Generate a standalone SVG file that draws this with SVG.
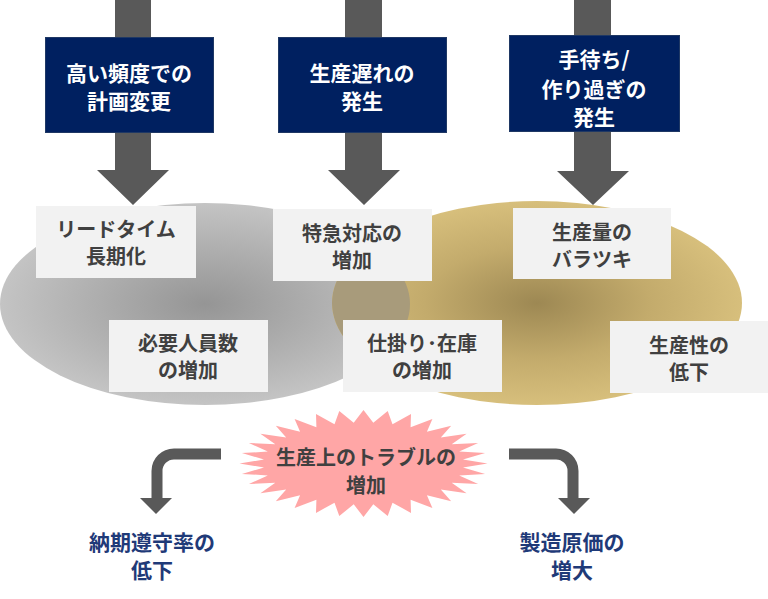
<svg xmlns="http://www.w3.org/2000/svg" width="768" height="599" viewBox="0 0 768 599">
<defs>
<radialGradient id="gGray" cx="0.5" cy="0.5" r="0.5">
<stop offset="0" stop-color="#959595"/>
<stop offset="1" stop-color="#c4c4c4"/>
</radialGradient>
<radialGradient id="gGold" cx="0.5" cy="0.5" r="0.5">
<stop offset="0" stop-color="#9d8853"/>
<stop offset="0.55" stop-color="#c3ab6c"/>
<stop offset="1" stop-color="#d7bf7c"/>
</radialGradient>
<clipPath id="clipGray"><ellipse cx="205" cy="304" rx="205" ry="101"/></clipPath>
<style>
.arrow{fill:#595959}
.curve{fill:none;stroke:#595959;stroke-width:11}
.navy{fill:#002060;stroke:#1f3864;stroke-width:1}
.box{fill:#f2f2f2}
text{font-family:"Noto Sans CJK JP","Noto Sans CJK SC",sans-serif;font-weight:bold;font-size:21px;text-anchor:middle}
.w{fill:#ffffff}
.d{fill:#404040;font-size:20px}
.b{fill:#1f3a78}
</style>
</defs>

<g id="ellipses">
<ellipse cx="205" cy="304" rx="205" ry="101" fill="url(#gGray)"/>
<ellipse cx="537" cy="303" rx="205" ry="102" fill="url(#gGold)"/>
<ellipse cx="537" cy="303" rx="205" ry="102" fill="#a89b7b" clip-path="url(#clipGray)"/>
</g>

<g id="connectors">
<polygon class="arrow" points="115,0 151,0 151,170 169,170 133,205 97,170 115,170"/>
<polygon class="arrow" points="345,0 382,0 382,170 400,170 364,205 328,170 345,170"/>
<polygon class="arrow" points="574,0 611,0 611,171 629,171 593,205 557,171 574,171"/>
<path class="curve" d="M221,454 H174 A17,17 0 0 0 157,471 V499"/>
<polygon class="arrow" points="140,498 172,498 156,514"/>
<path class="curve" d="M509,454 H556 A17,17 0 0 1 573,471 V499"/>
<polygon class="arrow" points="558,498 590,498 574,514"/>
</g>

<g id="n1">
<rect class="navy" x="45.5" y="37.5" width="168" height="95"/>
<text class="w" x="129" y="81">高い頻度での<tspan x="129" dy="28">計画変更</tspan></text>
</g>
<g id="n2">
<rect class="navy" x="278.5" y="37.5" width="168" height="95"/>
<text class="w" x="362" y="81">生産遅れの<tspan x="362" dy="28">発生</tspan></text>
</g>
<g id="n3">
<rect class="navy" x="509.5" y="35.5" width="170" height="96"/>
<text class="w" x="594" y="67">手待ち/<tspan x="594" dy="30">作り過ぎの</tspan><tspan x="594" dy="28">発生</tspan></text>
</g>

<g id="b1">
<rect class="box" x="36" y="206" width="160" height="72"/>
<text class="d" x="116" y="237">リードタイム<tspan x="116" dy="27">長期化</tspan></text>
</g>
<g id="b2">
<rect class="box" x="273" y="209" width="159" height="72"/>
<text class="d" x="352" y="241">特急対応の<tspan x="352" dy="27">増加</tspan></text>
</g>
<g id="b3">
<rect class="box" x="513" y="208" width="158" height="71"/>
<text class="d" x="592" y="240">生産量の<tspan x="592" dy="27">バラツキ</tspan></text>
</g>
<g id="b4">
<rect class="box" x="109" y="320" width="159" height="72"/>
<text class="d" x="188" y="351">必要人員数<tspan x="188" dy="27">の増加</tspan></text>
</g>
<g id="b5">
<rect class="box" x="343" y="320" width="159" height="72"/>
<text class="d" x="422" y="351">仕掛り･在庫<tspan x="422" dy="27">の増加</tspan></text>
</g>
<g id="b6">
<rect class="box" x="610" y="321" width="158" height="72"/>
<text class="d" x="689" y="353">生産性の<tspan x="689" dy="27">低下</tspan></text>
</g>

<g id="star">
<polygon fill="#ffa6a6" points="487.5,463.5 463,467.5 485.1,473.9 459.2,475.4 478.1,484 451.7,482.8 466.6,493.2 440.8,489.5 451.2,501.3 426.9,495.2 432.4,508 410.6,499.7 411,512.9 392.5,502.7 387.7,516 373.3,504.3 363.5,517 353.7,504.3 339.3,516 334.5,502.7 316,512.9 316.4,499.7 294.6,508 300.1,495.2 275.8,501.3 286.2,489.5 260.4,493.2 275.3,482.8 248.9,484 267.8,475.4 241.9,473.9 264,467.5 239.5,463.5 264,459.5 241.9,453.1 267.8,451.6 248.9,443 275.3,444.2 260.4,433.8 286.2,437.5 275.8,425.7 300.1,431.8 294.6,419 316.4,427.3 316,414.1 334.5,424.3 339.3,411 353.7,422.7 363.5,410 373.3,422.7 387.7,411 392.5,424.3 411,414.1 410.6,427.3 432.4,419 426.9,431.8 451.2,425.7 440.8,437.5 466.6,433.8 451.7,444.2 478.1,443 459.2,451.6 485.1,453.1 463,459.5"/>
<text class="d" x="366" y="465" font-size="19">生産上のトラブルの<tspan x="366" dy="28" font-size="20">増加</tspan></text>
</g>

<g id="out1">
<text class="b" x="152" y="550">納期遵守率の<tspan x="152" dy="28">低下</tspan></text>
</g>
<g id="out2">
<text class="b" x="572" y="550">製造原価の<tspan x="572" dy="28">増大</tspan></text>
</g>
</svg>
